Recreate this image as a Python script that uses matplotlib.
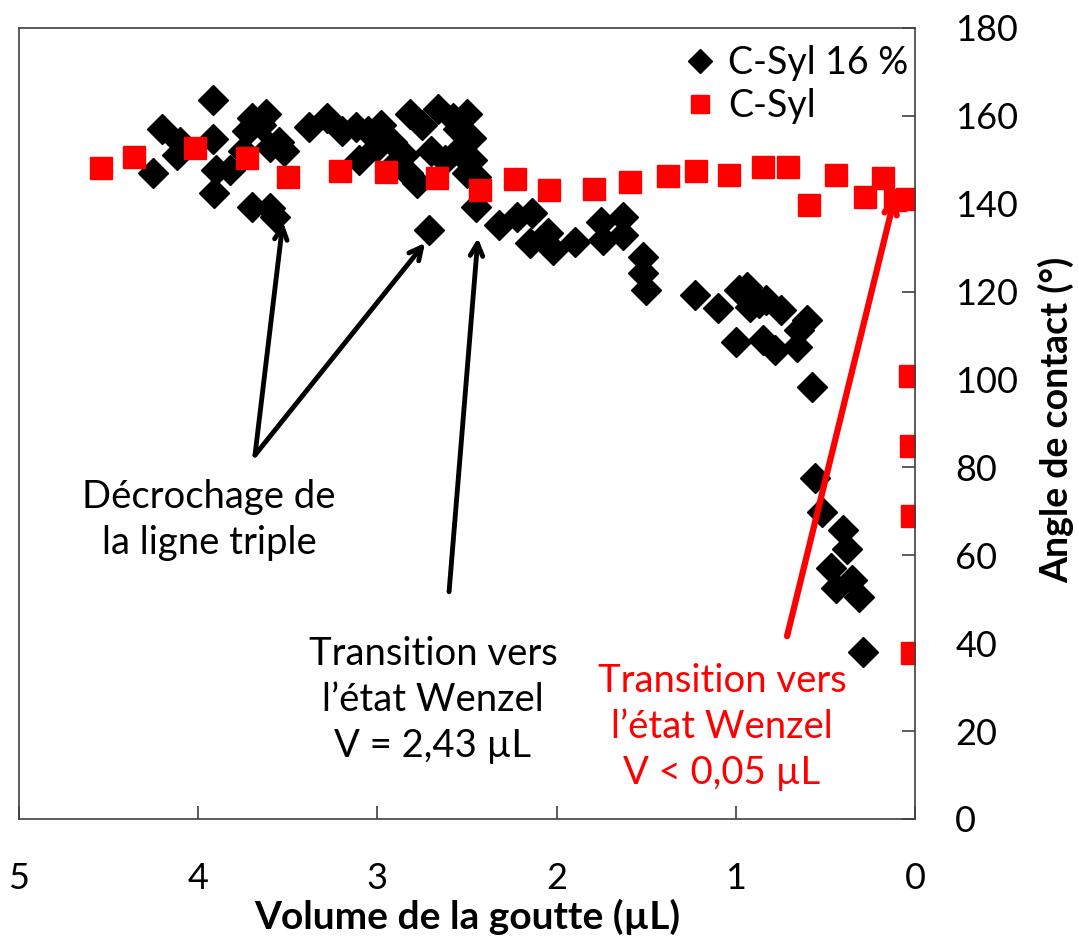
import matplotlib
matplotlib.use("Agg")
import matplotlib.pyplot as plt

plt.rcParams['font.family'] = ['Lato', 'DejaVu Sans']

# C-Syl 16 % : volume (uL), contact angle (deg)
csyl16_vol = [4.25, 4.20, 4.12, 4.10, 3.92, 3.92, 3.90, 3.91, 3.82, 3.75,
              3.73, 3.70, 3.65, 3.62, 3.60, 3.55, 3.52, 3.70, 3.60, 3.57,
              3.38, 3.28, 3.20, 3.12, 3.05, 3.00, 2.98, 2.92, 2.85, 2.82,
              2.75, 2.78, 2.70, 2.66, 2.58, 2.55, 2.50, 2.48, 2.47, 2.45,
              2.45, 2.71, 2.62, 2.55, 2.50, 3.10, 2.90, 2.83,
              2.32, 2.22, 2.14, 2.15, 2.05, 2.02, 1.90, 1.75, 1.63, 1.74,
              1.63, 1.52, 1.52, 1.50, 1.23, 1.10,
              0.98, 0.94, 0.92, 0.87, 0.83, 0.75, 0.60, 1.00, 0.85, 0.78,
              0.66, 0.65, 0.575,
              0.56, 0.52, 0.40, 0.38, 0.47, 0.44, 0.35, 0.31, 0.29]
csyl16_angle = [147.0, 157.0, 151.1, 154.0, 163.6, 154.8, 147.7, 142.5, 147.7, 152.0,
                156.5, 159.5, 158.0, 160.5, 153.0, 154.0, 152.0, 139.3, 139.0, 137.0,
                157.5, 159.5, 156.5, 157.5, 156.5, 153.0, 158.0, 154.0, 151.0, 160.5,
                158.0, 144.7, 152.0, 161.5, 159.5, 157.0, 160.5, 155.0, 150.0, 146.0,
                139.3, 134.0, 150.0, 152.0, 147.0, 150.0, 149.0, 147.0,
                135.2, 137.0, 137.9, 131.1, 133.4, 129.5, 131.3, 135.9, 137.0, 131.8,
                132.9, 127.9, 124.3, 120.4, 119.3, 116.3,
                120.4, 121.1, 116.5, 117.4, 118.1, 115.8, 113.6, 108.6, 109.0, 106.7,
                107.4, 111.3, 98.3,
                77.6, 69.9, 65.8, 61.4, 57.1, 52.6, 54.4, 50.5, 38.0]

# C-Syl
csyl_vol = [4.54, 4.36, 4.02, 3.73, 3.50, 3.21, 2.95, 2.67, 2.43, 2.23,
            2.04, 1.79, 1.59, 1.38, 1.22, 1.04, 0.85, 0.71, 0.59, 0.44,
            0.28, 0.18, 0.11, 0.045, 0.03, 0.02, 0.015, 0.015]
csyl_angle = [148.2, 150.7, 152.7, 150.4, 146.1, 147.5, 147.2, 145.9, 143.1, 145.7,
              143.1, 143.4, 145.0, 146.3, 147.5, 146.6, 148.3, 148.3, 139.7, 146.6,
              141.6, 145.9, 140.9, 141.1, 100.9, 84.9, 69.0, 37.8]

red = '#ff0000'

fig = plt.figure(figsize=(10.78, 9.38), dpi=100)
ax = fig.add_axes([0.0176, 0.1269, 0.8312, 0.8433])

ax.plot(csyl16_vol, csyl16_angle, linestyle='none', marker='D', ms=15,
        color='black', mec='black', label='C-Syl 16 %')
ax.plot(csyl_vol, csyl_angle, linestyle='none', marker='s', ms=16.5,
        color=red, mec=red, label='C-Syl')

ax.set_xlim(5, 0)
ax.set_ylim(0, 180)
ax.set_xticks([5, 4, 3, 2, 1, 0])
ax.set_yticks(range(0, 181, 20))
ax.yaxis.tick_right()
ax.yaxis.set_label_position('right')
ax.tick_params(axis='both', direction='in', length=9.5, width=1.2,
               color='#404040', labelsize=26)
ax.tick_params(axis='x', pad=31)
ax.tick_params(axis='y', pad=29)
for s in ax.spines.values():
    s.set_linewidth(1.2)
    s.set_color('#404040')

ax.set_xlabel('Volume de la goutte (µL)', fontsize=28, fontweight='bold')
ax.xaxis.set_label_coords(0.5, -0.124)
ax.xaxis.label.set_va('center')
ax.set_ylabel('Angle de contact (°)', fontsize=27, fontweight='bold')
ax.yaxis.set_label_coords(1.158, 0.504)
ax.yaxis.label.set_va('center')

ax.legend(loc='upper left', bbox_to_anchor=(0.712, 1.012), frameon=False,
          fontsize=27, handlelength=0.9, handletextpad=0.3, borderpad=0.2,
          labelspacing=0.2, markerscale=0.8)

# annotations
black_arrow = dict(arrowstyle='->,head_length=0.9,head_width=0.45',
                   color='black', lw=3.5, shrinkA=0, shrinkB=0)
ax.annotate('', xy=(3.527, 135.9), xytext=(3.683, 82.8), arrowprops=black_arrow)
ax.annotate('', xy=(2.734, 131.1), xytext=(3.683, 82.8), arrowprops=black_arrow)
ax.annotate('', xy=(2.439, 132.2), xytext=(2.60, 51.7), arrowprops=black_arrow)

red_arrow = dict(arrowstyle='->,head_length=0.9,head_width=0.45',
                 color=red, lw=4.5, shrinkA=0, shrinkB=0)
ax.annotate('', xy=(0.11, 142.0), xytext=(0.714, 41.6), arrowprops=red_arrow)

ax.text(3.94, 68.0, 'Décrochage de\nla ligne triple', fontsize=27.5,
        ha='center', va='center', linespacing=1.35)
ax.text(2.69, 27.1, 'Transition vers\nl\u2019état Wenzel\nV = 2,43 µL', fontsize=27.5,
        ha='center', va='center', linespacing=1.35)
ax.text(1.077, 20.9, 'Transition vers\nl\u2019état Wenzel\nV < 0,05 µL', fontsize=27.5,
        ha='center', va='center', linespacing=1.35, color=red)

fig.savefig('out.png', dpi=100)
